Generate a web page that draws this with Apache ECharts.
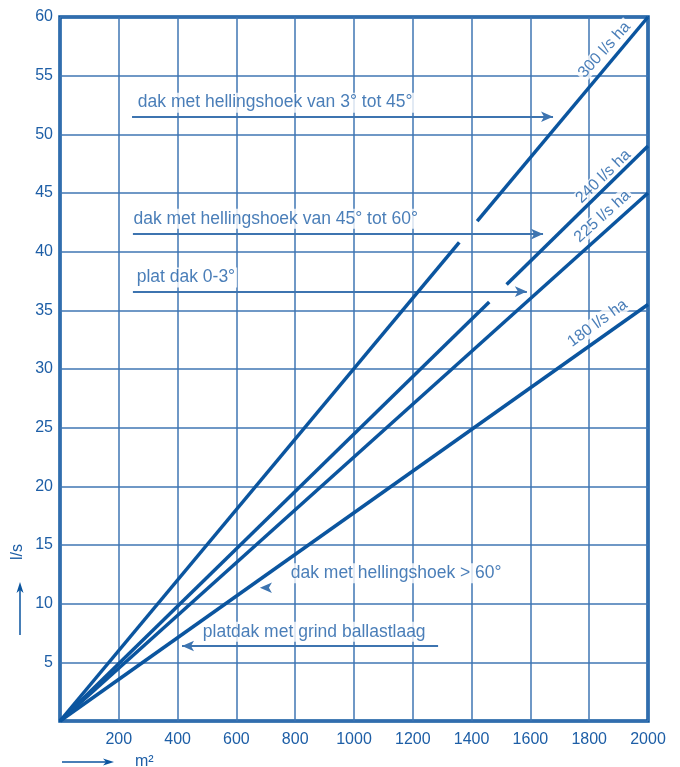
<!DOCTYPE html>
<html><head><meta charset="utf-8">
<script src="https://cdn.jsdelivr.net/npm/echarts@6/dist/echarts.min.js"></script>
<style>html,body{margin:0;padding:0;background:#fff}#c{width:680px;height:767px}</style>
</head><body><div id="c"></div>
<script>
// X ticks (m²) and Y ticks (l/s)
const xTicks = [0,200,400,600,800,1000,1200,1400,1600,1800,2000];
const yTicks = [0,5,10,15,20,25,30,35,40,45,50,55,60];
// Rate lines (segments)
const rateNames = ['300 l/s ha','240 l/s ha','225 l/s ha','180 l/s ha'];
const line300a = [[0,0],[1358,40.8]];
const line300b = [[1419,42.6],[2000,60]];
const line240a = [[0,0],[1460,35.7]];
const line240b = [[1519,37.2],[2000,49]];
const line225 = [[0,0],[2000,45]];
const line180 = [[0,0],[2000,35.5]];
// Rate label anchors [x, y, rotation]
const rateLabels = [[1852,57.2,48],[1848,46.4,44],[1845,43.0,42],[1828,33.9,36]];
// Roof-type annotations: text, text anchor [x,y], arrow from [x,y] to [x,y]
const roofTexts = ['dak met hellingshoek van 3° tot 45°','dak met hellingshoek van 45° tot 60°','plat dak 0-3°','dak met hellingshoek > 60°','platdak met grind ballastlaag'];
const roofTextPos = [[258,52.7],[243,42.8],[254,37.8],[778,12.6],[479,7.6]];
const roofArrows = [[[245,51.5],[1677,51.5]],[[248,41.5],[1643,41.5]],[[248,36.6],[1588,36.6]],[[730,11.36],[680,11.36]],[[1286,6.39],[415,6.39]]];

const DARK = '#0b559f', GRID = '#3f76b3', TXT = '#1d5ea6';
const FONT = 'Liberation Sans';

const chart = echarts.init(document.getElementById('c'));
const lineSeries = (d) => ({type:'line', data:d, symbol:'none', z:5, silent:true,
  lineStyle:{color:DARK, width:3.5}});
const series = [line300a,line300b,line240a,line240b,line225,line180].map(lineSeries);
series.push({type:'scatter', z:3, symbolSize:0, silent:true,
  data: rateLabels.map((p,i)=>({value:[p[0],p[1]], label:{rotate:p[2], formatter:rateNames[i]}})),
  label:{show:true, position:'inside', color:TXT, fontSize:16, fontFamily:FONT,
    backgroundColor:'#fff', padding:[0,2]}});
series.push({type:'scatter', z:3, symbolSize:0, silent:true,
  data: roofTextPos.map((p,i)=>({value:p, label:{formatter:roofTexts[i]}})),
  label:{show:true, position:'right', distance:0, color:TXT, fontSize:17.5, fontFamily:FONT,
    backgroundColor:'#fff', padding:[1,2]}});
series.push({type:'line', data:[], z:4,
  markLine:{silent:true, symbol:['none','arrow'], symbolSize:[8,12], animation:false,
    lineStyle:{color:'#3d74b0', width:2, type:'solid'}, label:{show:false},
    data: roofArrows.map((a,i)=>[{coord:a[0], lineStyle: i===3?{width:0.01}:undefined},{coord:a[1]}])}});

chart.setOption({
  animation:false,
  grid:{left:60, right:32, top:17, bottom:46, show:true, borderColor:DARK, borderWidth:3.5, backgroundColor:'transparent'},
  xAxis:{type:'value', min:xTicks[0], max:xTicks[xTicks.length-1], interval:200,
    axisLine:{show:false}, axisTick:{show:false},
    axisLabel:{color:TXT, fontSize:16, fontFamily:FONT, margin:11, formatter:v=>v===0?'':v},
    splitLine:{lineStyle:{color:GRID, width:1.5}}},
  yAxis:{type:'value', min:yTicks[0], max:yTicks[yTicks.length-1], interval:5,
    axisLine:{show:false}, axisTick:{show:false},
    axisLabel:{color:TXT, fontSize:16, fontFamily:FONT, margin:7, formatter:v=>v===0?'':v},
    splitLine:{lineStyle:{color:GRID, width:1.5}}},
  series: series,
  graphic:[
    {type:'text', x:18, y:552, rotation:Math.PI/2, style:{text:'l/s', fill:TXT, font:'16px '+FONT, align:'center', verticalAlign:'middle'}},
    {type:'line', shape:{x1:20,y1:635,x2:20,y2:590}, style:{stroke:DARK, lineWidth:1.5}},
    {type:'polygon', shape:{points:[[20,582],[16.5,593],[20,590],[23.5,593]]}, style:{fill:DARK}},
    {type:'text', x:135, y:762, style:{text:'m²', fill:TXT, font:'16px '+FONT, align:'left', verticalAlign:'middle'}},
    {type:'line', shape:{x1:62,y1:762,x2:106,y2:762}, style:{stroke:DARK, lineWidth:1.5}},
    {type:'polygon', shape:{points:[[114,762],[103,758.5],[106,762],[103,765.5]]}, style:{fill:DARK}}
  ]
});
</script></body></html>
